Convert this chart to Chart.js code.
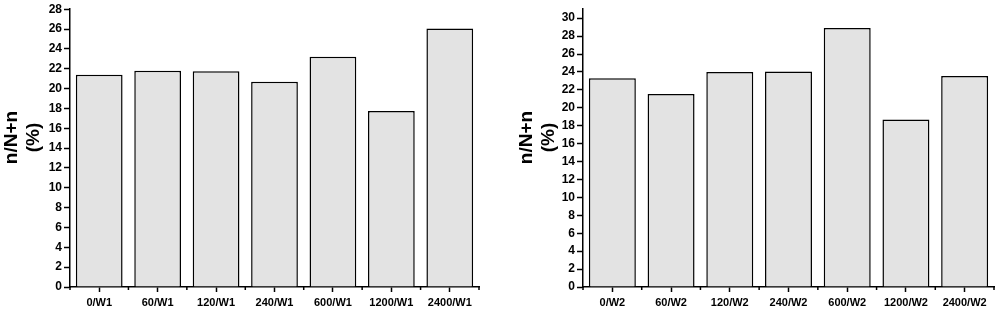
<!DOCTYPE html>
<html>
<head>
<meta charset="utf-8">
<script src="https://cdn.jsdelivr.net/npm/chart.js@4.4.1/dist/chart.umd.min.js"></script>
<style>
  html, body { margin: 0; padding: 0; background: #fff; }
  #wrap { position: relative; width: 996px; height: 314px; }
  .box { position: absolute; top: 0; height: 314px; }
  #left { left: 0; width: 490px; }
  #right { left: 500px; width: 496px; }
</style>
</head>
<body>
<div id="wrap">
  <div class="box" id="left"><canvas id="chartW1"></canvas></div>
  <div class="box" id="right"><canvas id="chartW2"></canvas></div>
</div>
<script>
// categories and values
const labelsW1 = ['0/W1', '60/W1', '120/W1', '240/W1', '600/W1', '1200/W1', '2400/W1'];
const valuesW1 = [21.4, 21.8, 21.75, 20.7, 23.2, 17.75, 26.05];
const ticksW1 = [0, 2, 4, 6, 8, 10, 12, 14, 16, 18, 20, 22, 24, 26, 28];

const labelsW2 = ['0/W2', '60/W2', '120/W2', '240/W2', '600/W2', '1200/W2', '2400/W2'];
const valuesW2 = [23.3, 21.55, 24.0, 24.05, 28.9, 18.7, 23.55];
const ticksW2 = [0, 2, 4, 6, 8, 10, 12, 14, 16, 18, 20, 22, 24, 26, 28, 30];

// leading spaces nudge the rotated title a bit upward, as in the original
const axisTitle = ['    n/N+n', '    (%)'];

Chart.defaults.font.family = '"Liberation Sans", Arial, sans-serif';
Chart.defaults.color = '#000';

// small ticks at category boundaries, like the minor ticks of the original
const minorTicks = {
    id: 'minorTicks',
    afterDraw: function(chart) {
        const x = chart.scales.x;
        const ctx = chart.ctx;
        const n = chart.data.labels.length;
        ctx.save();
        ctx.strokeStyle = '#000';
        ctx.lineWidth = 1.5;
        for (let i = 0; i <= n; i++) {
            const px = x.getPixelForValue(i - 0.5);
            ctx.beginPath();
            ctx.moveTo(px, x.top);
            ctx.lineTo(px, x.top + 3);
            ctx.stroke();
        }
        ctx.restore();
    }
};

function makeChart(id, labels, values, tickValues, yMax, axisWidth, leftPad, rightPad) {
    const ctx = document.getElementById(id);
    return new Chart(ctx, {
        type: 'bar',
        data: {
            labels: labels,
            datasets: [{
                data: values,
                backgroundColor: '#e3e3e3',
                borderColor: '#000',
                borderWidth: 1.5,
                barPercentage: 0.8,
                categoryPercentage: 1.0
            }]
        },
        options: {
            responsive: true,
            maintainAspectRatio: false,
            animation: false,
            layout: {
                padding: { top: 4, right: rightPad, bottom: 0, left: leftPad }
            },
            plugins: {
                legend: { display: false },
                tooltip: { enabled: false }
            },
            scales: {
                x: {
                    offset: true,
                    border: { color: '#000', width: 1.5 },
                    grid: {
                        display: true,
                        drawOnChartArea: false,
                        offset: false,
                        tickLength: 5,
                        tickWidth: 1.5,
                        tickColor: '#000'
                    },
                    ticks: {
                        maxRotation: 0,
                        autoSkip: false,
                        padding: 4,
                        font: { size: 11, weight: 'bold' }
                    },
                    afterFit: function(scale) { scale.height = 27; }
                },
                y: {
                    min: 0,
                    max: yMax,
                    border: { color: '#000', width: 1.5 },
                    grid: {
                        drawOnChartArea: false,
                        tickLength: 6,
                        tickWidth: 1.5,
                        tickColor: '#000'
                    },
                    ticks: {
                        padding: 2,
                        font: { size: 12, weight: 'bold' }
                    },
                    afterBuildTicks: function(scale) {
                        scale.ticks = tickValues.map(function(v) { return { value: v }; });
                    },
                    title: {
                        display: true,
                        text: axisTitle,
                        font: { size: 19, weight: 'bold' },
                        lineHeight: 0.9,
                        padding: { top: 0, bottom: 0 }
                    },
                    afterFit: function(scale) { scale.width = axisWidth; }
                }
            }
        },
        plugins: [minorTicks]
    });
}

makeChart('chartW1', labelsW1, valuesW1, ticksW1, 28, 70, 0, 11);
makeChart('chartW2', labelsW2, valuesW2, ticksW2, 31, 68, 15, 2);
</script>
</body>
</html>
